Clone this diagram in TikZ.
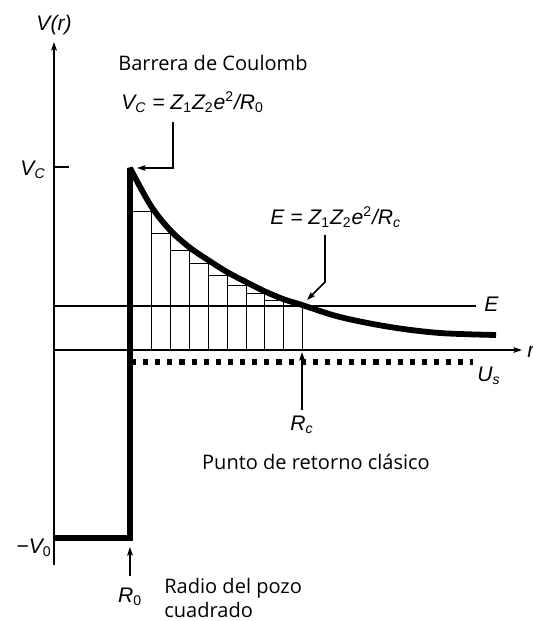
\documentclass[tikz,border=0pt]{standalone}
\usepackage{fontspec}
\setmainfont{Open Sans}
\newfontfamily\fmf{Liberation Sans}
\usetikzlibrary{arrows.meta}
\newcommand{\sbs}[1]{\textsubscript{#1}}
\newcommand{\sps}[1]{\textsuperscript{#1}}
\newcommand{\up}[1]{{\upshape #1}}
\begin{document}
\begin{tikzpicture}[x=0.02cm,y=-0.02cm,
  thinline/.style={line width=0.9pt},
  histline/.style={line width=0.55pt},
  heavy/.style={line width=3.3pt, line join=miter, miter limit=2},
  tip/.style={line width=0.9pt,-{Stealth[length=4.8pt,width=3.2pt,inset=0.8pt]}},
  txt/.style={font=\fontsize{11.4}{14}\selectfont, inner sep=0pt},
  mth/.style={font=\fontsize{12}{14}\selectfont\fmf\itshape, inner sep=0pt}]
\useasboundingbox (0,0) rectangle (533,621);
% histogram
\foreach \xa/\xb/\yt in {130/151/211, 151/170/233, 170/189/250, 189/208/263, 208/227/275, 227/246/285, 246/264/293, 264/283/300, 283/302/306}
  \draw[histline] (\xa,350) rectangle (\xb,\yt);
% coordinates
\coordinate (origin) at (54,350);
\coordinate (ytop) at (54,42);
\coordinate (ybot) at (54,565);
\coordinate (xend) at (522,350);
\coordinate (eL) at (54,306);
\coordinate (eR) at (476,306);
\coordinate (usL) at (131,362);
\coordinate (usR) at (473,362);
\coordinate (wellL) at (54,538);
\coordinate (wellR) at (130,538);
\coordinate (wallTop) at (130,171);
\coordinate (tick) at (69,167);
\coordinate (vctick) at (54,167);
% E line and axes
\draw[thinline] (eL) -- (eR);
\draw[tip] (ybot) -- (ytop);
\draw[tip] (origin) -- (xend);
\draw[thinline] (vctick) -- (tick);
% U_s dotted
\draw[line width=2.9pt, dash pattern=on 2.9pt off 4pt] (usL) -- (usR);
% well, wall and Coulomb curve
\draw[heavy] (wellL) -- (wellR) -- (wallTop) -- plot[smooth, tension=0.55] coordinates {(130,168) (151,206) (170,230) (189,247) (208,260) (227,272) (246,282) (264,291) (283,299) (302,305) (340,317) (390,327) (440,333) (496,335)};
% labels
\node[mth] (vr) at (54,25) {V(r)};
\node[mth] (vc) at (33,170) {V\sbs{C}};
\node[mth] (v0) at (34,548) {−V\sbs{\up{0}}};
\node[mth] (r0) at (130,597) {R\sbs{\up{0}}};
\node[txt, anchor=west, align=left] (radio) at (164,598) {Radio del pozo\\cuadrado};
\node[mth] (rc) at (302,425) {R\sbs{c}};
\node[txt] (punto) at (316,462) {Punto de retorno clásico};
\node[mth, anchor=west] (elab) at (484,304) {E};
\node[mth] (us) at (489,376) {U\sbs{s}};
\node[mth, anchor=west] (rlab) at (527,352) {r};
\node[txt, anchor=west] (barrera) at (118,63) {Barrera de Coulomb};
\node[mth, anchor=west] (vcf) at (121,102) {V\sbs{C} = Z\sbs{\up{1}}Z\sbs{\up{2}}e\sps{\up{2}}/R\sbs{\up{0}}};
\node[mth, anchor=west] (ef) at (270,217) {E = Z\sbs{\up{1}}Z\sbs{\up{2}}e\sps{\up{2}}/R\sbs{c}};
% arrows
\coordinate (vcA) at (173,122);
\coordinate (vcTip) at (137,168);
\draw[tip] (vcA) |- (vcTip);
\coordinate (eA) at (325,235);
\coordinate (eB) at (325,282);
\coordinate (eTip) at (307,300);
\draw[tip] (eA) -- (eB) -- (eTip);
\coordinate (r0A) at (130,576);
\coordinate (r0Tip) at (130,547);
\draw[tip] (r0A) -- (r0Tip);
\coordinate (rcA) at (302,410);
\coordinate (rcTip) at (302,352);
\draw[tip] (rcA) -- (rcTip);
\end{tikzpicture}
\end{document}
